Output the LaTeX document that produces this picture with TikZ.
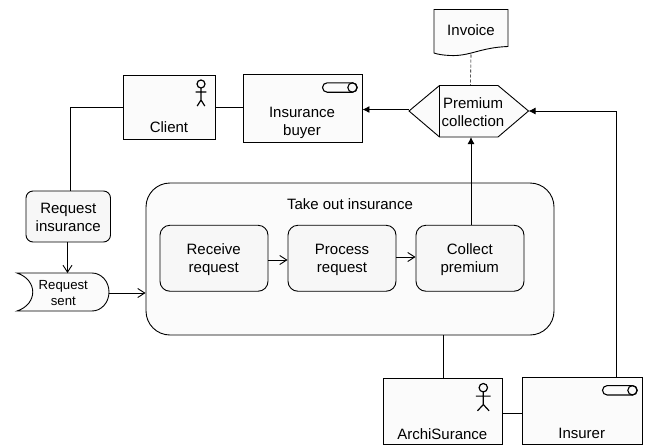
\documentclass[tikz,border=0pt]{standalone}
\usepackage{fontspec}
\setmainfont{Liberation Sans}
\usepackage{xcolor}
\usetikzlibrary{arrows.meta,positioning}
\definecolor{boxfill}{HTML}{FBFBFB}
\definecolor{stepfill}{HTML}{F7F7F7}
\tikzset{
  x=1pt, y=-1pt,
  every node/.style={font=\fontsize{15}{18}\selectfont, align=center, inner sep=0pt},
  line/.style={draw=black, line width=0.9pt},
  shapebox/.style={line, fill=boxfill, rectangle, minimum width=#1},
  stepbox/.style={line, fill=stepfill, rectangle, rounded corners=10pt, minimum width=108pt, minimum height=66pt},
  openarrow/.style={line, -{Straight Barb[length=7pt,width=9pt]}},
  filledarrow/.style={line, -{Latex[length=7pt,width=7pt]}},
  pics/actor/.style={code={
    \draw[line, line width=1.2pt] (0,0) circle (4pt);
    \draw[line, line width=1.2pt] (0,4) -- (0,16) (-#1,8) -- (#1,8) (-#1+1.5,22) -- (0,16) -- (#1-1.5,22);
  }},
  role/.pic={
    \draw[line, line width=1.1pt, rounded corners=4.7pt] (-30,-4.7) rectangle (4.5,4.7);
    \draw[line, line width=1.1pt] (0,0) circle (4.7pt);
  }
}
\begin{document}
\begin{tikzpicture}
  \useasboundingbox (0,0) rectangle (645,445);

  \node (client) [shapebox=91.5pt, minimum height=63.5pt] at (169.25,107.25) {};
  \node (clientname) at (169,127) {Client};
  \pic at (201,84) {actor=5.3};
  \node (buyer) [shapebox=119pt, minimum height=67.5pt] at (302.5,108.25) {};
  \node (buyername) at (302,122.5) {Insurance\\buyer};
  \pic at (352.5,87.5) {role};

  \coordinate (invoicefoot) at (471,54.5);
  \draw[line, fill=boxfill] (434,9.5) -- (508,9.5) -- (508,46.5)
    .. controls (480,47.5) and (470,56.5) .. (450,55.5)
    .. controls (444,55.2) and (438,54.5) .. (434,53) -- cycle;
  \node (invoice) at (471,30) {Invoice};

  \coordinate (premiumwest) at (409,111);
  \coordinate (premiumeast) at (528.5,111);
  \coordinate (premiumnorth) at (470.5,85.5);
  \coordinate (premiumsouth) at (471,137);
  \draw[line, fill=boxfill] (premiumwest) -- (439.5,85.5) -- (498,85.5) -- (premiumeast)
    -- (498,137) -- (439.5,137) -- cycle;
  \draw[line] (439.5,85.5) -- (439.5,137);
  \node (premium) at (473,112) {Premium\\collection};

  \node (takeout) [line, fill=boxfill, rectangle, rounded corners=24pt, minimum width=408pt, minimum height=152pt] at (350,259) {};
  \node (takeoutname) at (350,204) {Take out insurance};
  \node (receive) [stepbox] at (214,258.25) {};
  \node (receivename) at (213.7,260) {Receive\\request};
  \node (process) [stepbox] at (342,258.25) {};
  \node (processname) at (342,260) {Process\\request};
  \node (collect) [stepbox] at (470,258.25) {};
  \node (collectname) at (469.8,260) {Collect\\premium};

  \node (request) [line, fill=stepfill, rectangle, rounded corners=7pt, minimum width=84.5pt, minimum height=51pt] at (68.25,216.5) {};
  \node (requestname) at (68.25,217.5) {Request\\insurance};
  \draw[line, fill=boxfill] (17,273) -- (92,273) arc (90:-90:17pt and 19pt) -- (17,311)
    .. controls (38,304) and (38,280) .. (17,273) -- cycle;
  \node (sent) [font=\fontsize{13.2}{16}\selectfont] at (63.3,293) {Request\\sent};
  \coordinate (sentnorth) at (67.5,273);
  \coordinate (senteast) at (109,293);

  \node (archi) [shapebox=119pt, minimum height=66.5pt] at (442.5,411.25) {};
  \node (archiname) at (442.3,434) {ArchiSurance};
  \pic[scale=1.05] at (483.3,387.7) {actor=7};
  \node (insurer) [shapebox=120pt, minimum height=67.5pt] at (582,410.75) {};
  \node (insurername) at (581.7,433) {Insurer};
  \pic at (632.5,390.3) {role};

  \draw[line, line width=0.6pt, dash pattern=on 3pt off 2pt] (invoicefoot) -- (premiumnorth);
  \draw[line] (client.west |- 0,107) -- (70.5,107) -- (70.5,191);
  \draw[line] (client.east) -- (client.east -| buyer.west);
  \draw[filledarrow] (premiumwest |- 0,109.5) -- (buyer.east |- 0,109.5);
  \draw[filledarrow] (insurer.north -| 616,0) -- (616,111) -- (premiumeast);
  \draw[filledarrow] (collect.north -| premiumsouth) -- (premiumsouth);
  \draw[openarrow] (request.south -| sentnorth) -- (sentnorth);
  \draw[openarrow] (senteast) -- (senteast -| takeout.west);
  \draw[openarrow] (receive.east |- 0,260) -- (process.west |- 0,260);
  \draw[openarrow] (process.east |- 0,257) -- (collect.west |- 0,257);
  \draw[line] (archi.north -| 443.5,0) -- (takeout.south -| 443.5,0);
  \draw[line] (archi.east |- 0,413) -- (insurer.west |- 0,413);
\end{tikzpicture}
\end{document}
